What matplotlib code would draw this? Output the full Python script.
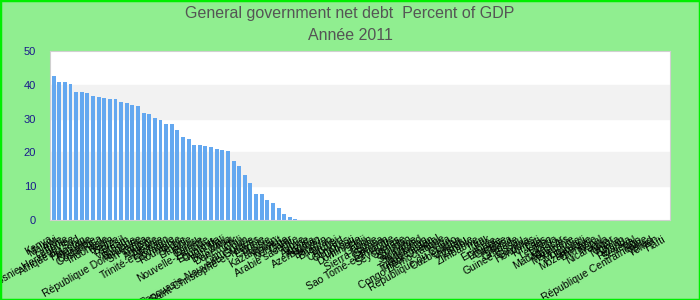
import numpy as np
import matplotlib
matplotlib.use("Agg")
import matplotlib.pyplot as plt
from matplotlib.patches import Rectangle

plt.rcParams["font.family"] = ["Liberation Sans", "DejaVu Sans"]

# -------------------- DATA --------------------
countries = [
    "Kenya", "Malawi", "Inde", "Lettonie", "Bosnie-Herzégovine", "Afrique du Sud",
    "Pakistan", "Mexique", "Colombie", "Costa Rica", "Indonésie", "Bénin",
    "Belize", "Brésil", "Vietnam", "Bulgarie", "République Dominicaine",
    "Sri Lanka", "Tunisie", "Arménie", "Albanie", "Trinité-et-Tobago",
    "Slovaquie", "Roumanie", "Serbie", "Lituanie", "Pérou", "Guinée",
    "Nouvelle-Zélande", "Équateur", "Ouganda", "Mali", "Botswana", "Danemark",
    "Chili", "Cameroun", "Papouasie-Nouvelle-Guinée", "Saint-Christophe-et-Niévès",
    "Estonie", "Russie", "Kazakhstan", "Koweït", "Norvège", "Qatar",
    "Arabie saoudite", "Libye", "Algérie", "Angola", "Azerbaïdjan", "Bahreïn",
    "Bhoutan", "Brunei", "Cap-Vert", "Comores", "Djibouti", "Dominique",
    "Fidji", "Gabon", "Sierra Leone", "Samoa", "Salomon",
    "Sao Tomé-et-Principe", "Seychelles", "Somalie", "Soudan", "Suriname",
    "Swaziland", "Tadjikistan", "Turkménistan", "Timor Oriental",
    "Congo Démocratique", "Tonga", "République du Congo", "Ouzbékistan",
    "Vanuatu", "Zambie", "Zimbabwe", "Iran", "Irak", "Érythrée", "Éthiopie",
    "Gambie", "Ghana", "Grenade", "Guinée-Bissau", "Guyana", "Honduras",
    "Kiribati", "Laos", "Lesotho", "Liberia", "Madagascar", "Maldives",
    "Mauritanie", "Mongolie", "Burundi", "Mozambique", "Birmanie", "Népal",
    "Nicaragua", "Niger", "Nigeria", "Oman", "Rwanda", "Sénégal", "Togo",
    "République Centrafricaine", "Tchad", "Yémen", "Haïti",
]

net_debt = [
    42.7, 40.9, 40.9, 40.3, 37.9, 37.9, 37.6, 36.7, 36.4, 36.1, 35.8, 35.8,
    34.9, 34.6, 34.0, 33.7, 31.7, 31.4, 30.2, 29.6, 28.4, 28.4, 26.6, 24.5,
    23.9, 22.1, 22.1, 21.8, 21.5, 20.9, 20.6, 20.3, 17.4, 15.9, 13.2, 10.8,
    7.8, 7.8, 5.8, 4.9, 3.4, 1.6, 1.0, 0.4,
]
net_debt = net_debt + [0.0] * (len(countries) - len(net_debt))

title_line1 = "General government net debt  Percent of GDP"
title_line2 = "Année 2011"

# -------------------- PLOT --------------------
fig = plt.figure(figsize=(7, 3), dpi=100, facecolor="#90ee90")
fig.patches.append(Rectangle((0, 0), 1, 1, transform=fig.transFigure,
                             fill=False, edgecolor="#00ee00", linewidth=2.5))

ax = fig.add_axes([0.0714, 0.267, 0.886, 0.563])
ax.set_facecolor("white")

# alternating bands
ax.axhspan(10, 20, color="#f2f2f2", zorder=0)
ax.axhspan(30, 40, color="#f2f2f2", zorder=0)

x = np.arange(len(countries))
ax.bar(x, net_debt, width=0.7, color="#64a8f0", zorder=2)

ax.set_xlim(-0.65, len(countries) - 0.35)
ax.set_ylim(0, 50)
ax.set_yticks([0, 10, 20, 30, 40, 50])
ax.tick_params(axis="y", length=0, pad=10, labelsize=8, labelcolor="#1a1a8c")

ax.set_xticks(x)
ax.set_xticklabels(countries, rotation=30, ha="right", fontsize=7.5)
ax.tick_params(axis="x", length=0, pad=10)

for s in ax.spines.values():
    s.set_color("#d0d0d0")

fig.text(0.5, 0.955, title_line1, ha="center", va="center",
         fontsize=11.5, color="#555555")
fig.text(0.5, 0.88, title_line2, ha="center", va="center",
         fontsize=11.5, color="#555555")

fig.savefig("out.png", dpi=100, facecolor=fig.get_facecolor())
